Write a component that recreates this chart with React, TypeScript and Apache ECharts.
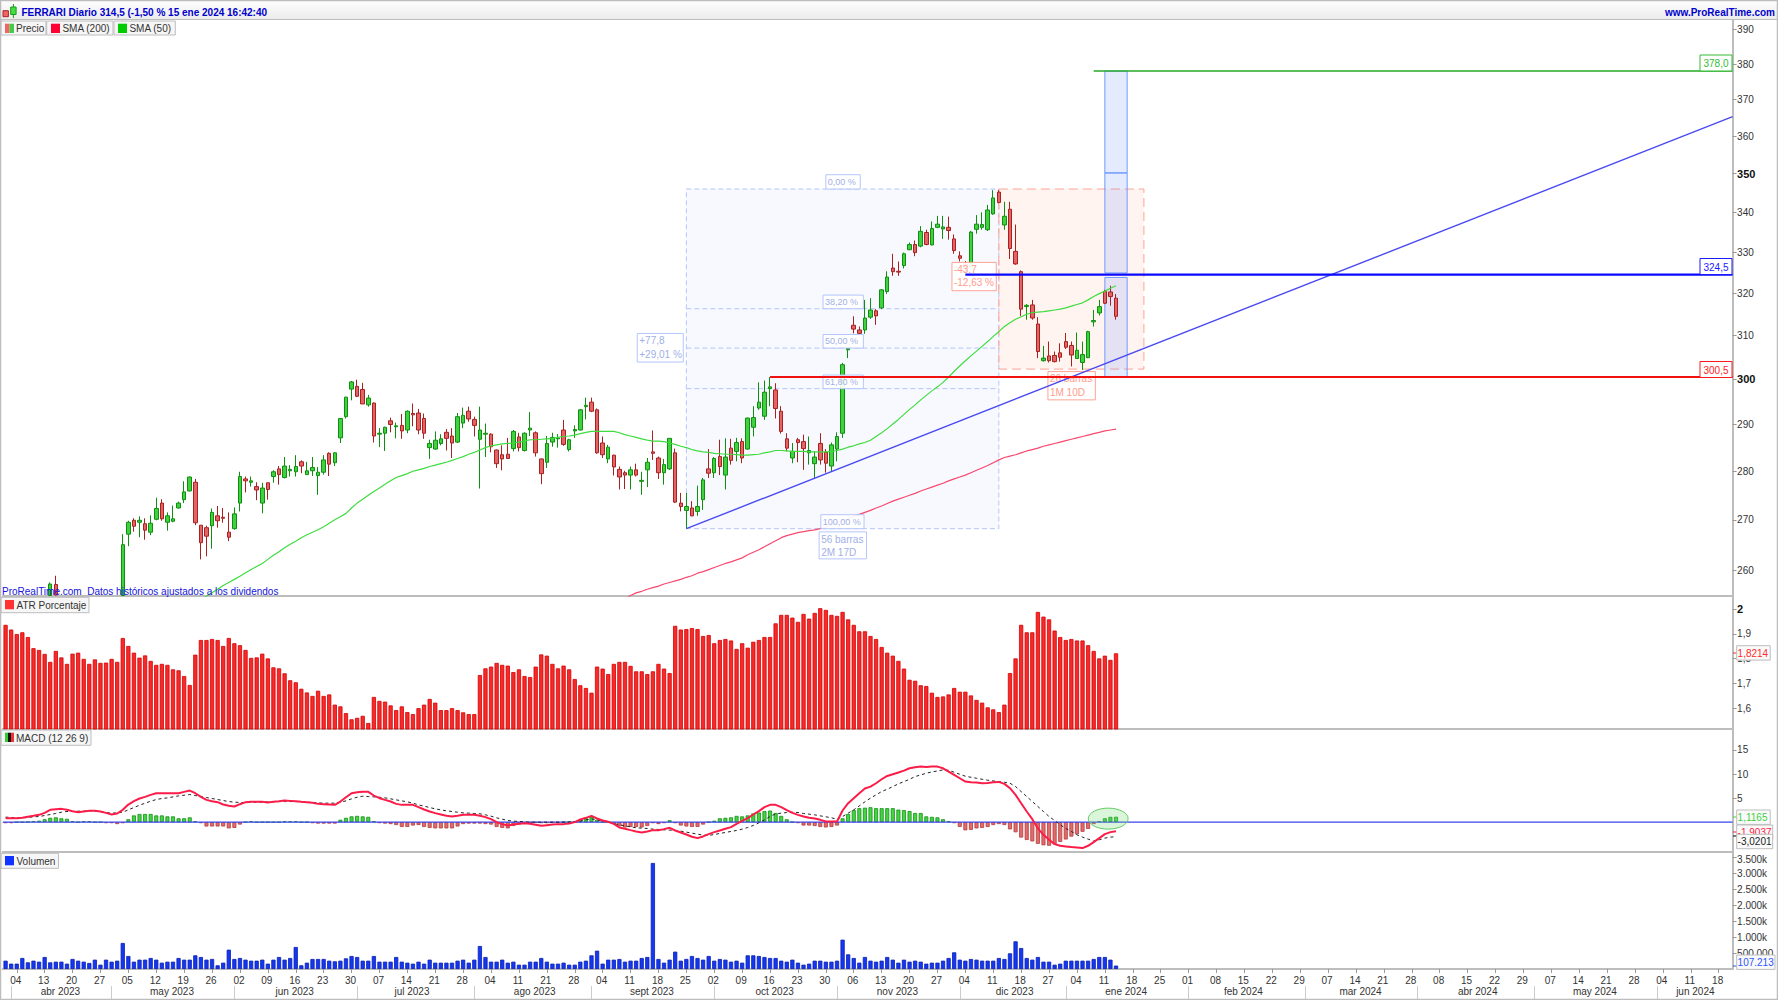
import React, { useEffect, useRef } from "react";
import * as echarts from "echarts";

const FONT = '"Liberation Sans", Arial, sans-serif';
const BAR_COUNT = 310;
const categories = Array.from({ length: BAR_COUNT }, (_, i) => String(i));

// [open, close, low, high]
const candlesApr = [
  [248,249.5,247.5,250],[249.5,250.5,249,251.2],[250.5,251,250,252],[251,250.5,249.8,251.8],[250.5,252,250.2,252.5],
  [252,252.5,251.5,253.2],[252.5,253.5,252,254],[253.5,254,253,254.6],[255.1,257.3,255.1,257.6],[257.2,255.2,255.1,258.9],
  [254.4,253,252.5,254.6],[253,252,251,254],[252,250.5,250,252.4],[250.5,249,248,251],[249,250,248.5,251],
  [250,249,248,250.5],[249,250.5,248.6,251],[250.5,250,249,251.5],[250,249,248.3,250.4],[249,248,247,249.5],[248,250,247.6,250.4],
];
const candlesMayJun = [
  [255.1,265,255.1,267.1],[267.1,269.5,264.7,269.8],[269.9,268.7,267.6,270.3],[269.5,269.9,266.5,270.7],[269.2,267.9,266,270.3],
  [267.5,269.3,266.9,270.9],[270.1,272.3,269.9,274.5],[273.4,270.2,269.8,274.2],[269.5,270.8,267.8,271.5],[269.7,270.2,269.5,272.9],
  [272.4,273.4,272.3,273.7],[274.1,275.7,273.4,277.9],[275.9,278.8,275.8,278.9],[277.7,269.4,268.9,278.4],[268.9,265.4,262.1,268.9],
  [268.4,266.7,262.7,268.8],[268.8,271.5,264.2,272.3],[270.8,269.8,268.4,272.8],[270.5,270.3,269.4,272.4],[267.5,266.5,265.7,271.5],
  [268.2,271.2,268,272.5],[273.4,278.9,271.7,279.9],[278.4,278,275.6,278.9],[277.7,278,276.8,278.9],[276.8,276.1,274,277.7],
  [273.4,276.5,271.3,277.6],[277.6,276.2,274.1,277.6],[278.9,279.9,277.6,280.2],[280.5,279.3,277.2,281.1],[278.7,281.1,278.5,283],
  [280.1,280.4,278.9,281.3],[279.9,281,278.9,283.4],[282,281.1,279.6,282.3],[279.3,280.1,279.3,282],[280.1,280.8,279,283],
  [279.1,279.8,275.1,280.9],[279.8,282.4,279.3,283.4],[283.8,281.5,279,284],[281.8,283.9,281.1,284],
];
const candlesJulAug = [
  [287.1,291.3,286,291.4],[291.7,296,291.3,296.1],[297.8,299.4,295.3,299.6],[298.4,296.2,296,299.9],[297.7,294.5,294.5,299.2],
  [294.3,295.8,293.9,296.5],[294.7,287.5,286.1,294.8],[287.9,288.1,285.1,289.2],[288.1,289.4,284.3,289.5],[290.8,290,288.3,291.5],
  [289.5,289.7,287,290.4],[289.8,288.6,286.9,292.3],[288.8,292.9,288.1,293.1],[292.4,292.1,289.6,294.6],[292.5,288.8,287.9,293.4],
  [291.3,288.1,286.9,292.4],[285,285.9,282.6,286.7],[284.7,286.6,284.6,288.5],[285.9,286.9,285.5,287.9],[288.3,287,284.4,289],
  [287.5,286,282.8,289.2],[286.2,291.7,286,292.5],[290.3,292,289.2,293.7],[292.9,291.2,290.6,293.9],[291.1,289.8,287.4,291.7],
  [286.8,288.8,276.4,293.9],[287.9,288.1,283,290.2],[287.9,285.2,284,288.1],[284.5,281.6,280.7,284.6],[283.5,282.6,280.2,285.5],
  [283.6,282.7,282.6,287.1],[284.8,288.5,284.2,288.8],[287.3,285,284.2,288.2],[284.4,288.1,284.2,288.3],[288.8,289.2,287.5,292.7],
  [288.2,283.9,283.1,288.5],[282.6,279.5,277.3,282.7],[281.9,285.9,280.7,287.5],[286.2,287.2,285.2,288.2],[286.9,287.1,285,287.9],
  [288.8,285.7,285.4,291],[284.6,286.7,284.2,286.9],[288.6,288.9,287.1,289.8],[288.8,293.2,288.7,293.4],[293.9,294.2,291.1,295.9],
  [294.9,292.9,292.7,295.9],[293.2,283.9,283.7,293.5],
];
const candlesSepOct = [
  [286,283.5,282.8,287.4],[282.6,285.1,281.7,285.6],[283.4,280.9,279.1,283.5],[280.4,278.8,276.2,281],[279.7,279.2,276.3,280.1],
  [279.2,280.3,276.2,281],[280.3,279.2,278.9,281.6],[277.9,278.1,275.1,279.9],[280.3,281.9,276.7,282.8],[284.1,283.8,282.4,288.7],
  [282.8,279.7,278.4,283.1],[279.7,281.4,277.2,282.6],[280.5,287,280.3,287],[283.9,273.6,273.4,284.8],[273.4,272.7,271.7,275.5],
  [271.9,272.7,268.2,275.5],[272.4,270.8,270.7,273.8],[271.7,272.7,270.8,277],[274.1,278.2,272,278.6],[280.5,279.6,278.6,284.7],
  [279.7,282.7,278.6,283],[283.1,281,279.2,286.7],[279.2,283,276.2,287],[284.9,282.3,281.4,286.9],[284.2,286.1,282.1,287.1],
  [286.3,282.8,281.7,287],[284.7,291.4,284.6,291.5],[289.4,291.5,287.4,294],[293.6,294.9,293.2,299.3],[291.8,297.1,291,299.7],
  [297.9,298.3,294,300.5],[297.6,293.5,291.3,299.1],[292.9,288.5,288,294],[286.9,284.9,284.2,288.1],[282.8,284.2,281.7,286],
  [286.7,286.1,281.9,287.1],[286.3,284.8,280.3,287.8],[283.9,284.4,281.4,287.4],[281.6,283,278.6,284.2],[285.9,282.4,281.4,288.1],
  [284,281.7,279.7,284.7],[281.1,285.6,279.9,286.1],[284.7,287.4,282.1,288.3],[288.1,303.3,287.1,303.7],
];
const candlesNovJan = [
  [306.7,307,304.8,307.1],[312.4,311.5,310.5,314.5],[311.3,310.5,310.4,312.1],[311.3,314.1,310.4,318.4],[314.3,316,313.9,318.8],
  [315.8,314.6,312.5,316.2],[316.5,320.8,316.2,321],[320.4,323.9,319.8,325.3],[326.1,325.2,324.2,329.6],[325.3,325.1,324.2,327.7],
  [326.7,329.6,326,329.9],[330.6,331.9,330.5,332.4],[331.9,329.9,329,332.9],[331.5,335.2,331.2,336.5],[334.9,331.9,331.7,335.6],
  [331.8,335.9,331.7,337.7],[336.2,337,336,339.1],[335.8,336.3,333.3,339.1],[336.2,335.4,333.1,338.9],[333.3,330.4,329.6,334.4],
  [329.1,328.5,327.7,330.2],[327,326,324.8,327.8],[326.5,335,326,335.3],[335.7,337,334.6,339.3],[336.2,336.9,335.6,340],
  [335.6,340.6,335.3,341.9],[339.6,343.7,339.4,345.7],[345.2,342.5,342.3,345.7],[336.8,339,335.6,342.7],[340.8,330.9,328.3,342.7],
  [330.2,327.1,326.9,336.9],[325.2,316.2,314.6,325.5],[316.8,317.1,313.7,317.4],[317.2,314.1,313.7,318.4],[312.7,306.3,304.8,314.3],
  [304.2,304.8,304,307.6],[305.3,304.2,303.8,308.6],[305.4,304,303.8,306.3],[306,305,304,308.2],[308.6,307.3,306.9,310.6],
  [307.7,305.5,302.9,308.6],[304.7,306.6,304.6,310.7],[303.8,305.6,302.1,308.6],[304.9,310.9,304.8,311.1],[313.2,313.5,312.1,316],
  [315.3,316.8,314.7,318.4],[320.4,317.6,317.4,320.8],[320.3,319.2,317,321.8],[318.8,314.5,313.7,319.8],
];

const sma50Start = 34;
const sma50 = [
  253.9,254.4,255,255.6,256.3,257,257.6,258.2,258.8,259.5,260.1,260.7,261.3,262.1,262.9,263.6,264.4,265.1,265.7,266.4,
  267,267.5,268,268.6,269.3,270,270.6,271.3,272.4,273.4,274.2,275,275.8,276.5,277.3,278,278.7,279.1,279.5,280,
  280.3,280.6,281,281.3,281.6,281.9,282.3,282.7,283.1,283.6,284,284.5,285,285.4,285.6,285.8,285.9,286,286.2,286.4,
  286.7,286.7,286.8,286.9,287,287.2,287.4,287.5,287.7,288,288.3,288.5,288.5,288.5,288.5,288.5,288.2,287.8,287.5,287.2,
  286.9,286.6,286.4,286.4,286.3,286,285.7,285.3,285,284.6,284.3,284.1,284,283.8,283.7,283.6,283.6,283.5,283.4,283.4,
  283.5,283.6,283.9,284.1,284.4,284.4,284.3,284.2,284.2,284.2,284.1,284.1,284.1,284.1,284.2,284.4,284.7,285.1,285.4,285.8,
  286.1,286.6,287.4,288.2,289.1,290.1,291.1,292.2,293.3,294.3,295.4,296.4,297.4,298.3,299.3,300.5,301.8,303,304.2,305.3,
  306.4,307.5,308.6,309.8,310.9,312.1,313,313.8,314.4,315,315.4,315.5,315.6,315.8,316,316.2,316.5,316.9,317.3,317.7,
  318.4,319.2,319.9,320.5,321.2,321.8,
];
const sma200Start = 110;
const sma200 = [
  253.9,254.5,255.1,255.6,255.9,256.3,256.6,256.9,257.3,257.6,257.9,258.2,258.6,258.9,259.4,259.7,260.1,260.5,260.9,261.3,
  261.6,262,262.4,263,263.5,264,264.6,265.2,265.8,266.4,266.8,267.1,267.4,267.6,267.8,267.95,268.2,268.6,269,269.4,
  269.8,270.2,270.7,271.1,271.5,271.9,272.4,272.8,273.3,273.8,274.2,274.6,275,275.4,275.9,276.3,276.7,277.1,277.5,278,
  278.4,278.8,279.2,279.7,280.2,280.7,281.2,281.8,282.4,282.9,283.2,283.5,283.9,284.3,284.6,284.9,285.3,285.6,285.9,286.2,
  286.5,286.8,287.1,287.4,287.7,288,288.3,288.6,288.8,289,
];

const atrPct = [
  1.936,1.917,1.899,1.906,1.887,1.842,1.835,1.819,1.787,1.831,
  1.805,1.779,1.820,1.824,1.799,1.779,1.797,1.783,1.784,1.799,
  1.787,1.883,1.851,1.824,1.804,1.813,1.791,1.775,1.779,1.775,
  1.757,1.753,1.730,1.694,1.816,1.875,1.875,1.879,1.875,1.851,
  1.883,1.862,1.854,1.835,1.803,1.805,1.820,1.801,1.765,1.761,
  1.741,1.713,1.705,1.679,1.664,1.650,1.671,1.650,1.656,1.615,
  1.608,1.581,1.556,1.562,1.570,1.541,1.646,1.630,1.627,1.612,
  1.593,1.608,1.585,1.577,1.601,1.615,1.638,1.623,1.593,1.593,
  1.601,1.593,1.584,1.577,1.577,1.734,1.761,1.768,1.783,1.775,
  1.772,1.746,1.757,1.730,1.726,1.768,1.817,1.812,1.779,1.761,
  1.772,1.757,1.718,1.693,1.682,1.663,1.768,1.760,1.738,1.779,
  1.787,1.787,1.771,1.749,1.749,1.738,1.749,1.779,1.760,1.742,
  1.932,1.917,1.919,1.923,1.919,1.891,1.895,1.862,1.875,1.879,
  1.873,1.839,1.862,1.844,1.868,1.875,1.887,1.887,1.942,1.976,
  1.976,1.965,1.948,1.980,1.961,1.984,2.003,1.996,1.976,1.972,
  1.988,1.958,1.936,1.910,1.910,1.891,1.879,1.847,1.824,1.812,
  1.791,1.760,1.715,1.711,1.693,1.690,1.663,1.646,1.648,1.656,
  1.682,1.667,1.667,1.652,1.634,1.623,1.604,1.596,1.585,1.615,
  1.742,1.801,1.936,1.906,1.906,1.988,1.969,1.958,1.913,1.887,
  1.875,1.879,1.873,1.873,1.854,1.831,1.801,1.812,1.795,1.8214,
];

const macdLine = [
  .83,.83,.83,.90,1.11,1.31,1.52,1.93,2.56,2.69,2.76,2.56,2.28,2.07,2.21,2.35,2.35,2.21,1.93,1.59,
  1.80,2.56,3.66,4.35,4.91,5.25,5.67,6.01,6.01,6.01,6.01,6.01,6.29,6.56,6.01,5.25,4.63,4.35,4.15,3.66,
  3.39,3.25,3.73,4.15,4.22,4.22,4.22,4.08,4.22,4.35,4.49,4.42,4.35,4.22,4.15,4.01,3.80,3.73,3.66,3.59,
  4.28,5.18,6.01,6.22,6.29,6.29,5.53,4.98,4.63,4.28,3.80,3.59,3.59,3.59,3.11,2.63,2.21,1.87,1.59,1.31,
  1.17,1.31,1.52,1.52,1.52,1.31,1.04,.62,0,-.41,-.69,-.48,-.35,-.21,-.35,-.55,-.76,-.62,-.48,-.41,
  -.41,-.28,0,.55,.90,1.31,.76,.35,.07,-.35,-1.11,-1.38,-1.66,-1.93,-2.14,-1.93,-1.66,-1.66,-1.45,-1.17,
  -1.73,-2.14,-2.56,-3.04,-3.32,-2.97,-2.49,-2.07,-1.73,-1.38,-1.04,-.35,.28,.83,1.59,2.28,3.11,3.59,3.59,3.11,
  2.49,1.93,1.52,1.17,.90,.76,.48,.14,.14,.14,2.42,3.94,4.98,6.01,6.98,7.39,8.08,8.91,9.60,9.95,
  10.30,10.71,11.19,11.40,11.54,11.47,11.54,11.54,11.19,10.50,9.81,9.12,8.43,8.29,8.22,8.08,8.15,8.29,8.36,7.95,
  7.05,5.67,3.94,2.21,.62,-1.31,-2.63,-3.66,-4.56,-4.91,-5.04,-5.18,-5.25,-5.39,-4.91,-4.15,-3.32,-2.49,-2.07,-1.9037,
];
const macdSignal = [
  1.04,.97,.90,.90,.97,1.11,1.17,1.38,1.59,1.80,2.07,2.21,2.21,2.28,2.28,2.35,2.28,2.14,2.00,1.87,
  1.93,2.07,2.56,3.04,3.52,3.94,4.35,4.70,4.91,5.04,5.25,5.46,5.60,5.74,5.53,5.32,5.11,4.91,4.70,4.49,
  4.28,4.15,4.08,4.08,4.15,4.15,4.15,4.22,4.22,4.28,4.28,4.28,4.28,4.22,4.15,4.08,4.01,3.94,3.94,3.94,
  4.15,4.42,4.84,5.18,5.39,5.32,5.25,5.18,5.04,4.84,4.63,4.42,4.22,3.94,3.59,3.32,3.04,2.76,2.56,2.35,
  2.21,2.07,1.93,1.87,1.80,1.73,1.52,1.24,.90,.62,.35,.21,.14,.07,0,0,0,0,0,0,
  0,0,0,.21,.48,.69,.48,.21,0,-.28,-.55,-.76,-.97,-1.17,-1.24,-1.31,-1.45,-1.52,-1.59,-1.66,
  -1.73,-1.87,-2.07,-2.28,-2.49,-2.69,-2.76,-2.56,-2.35,-2.14,-1.93,-1.73,-1.45,-1.11,-.69,-.14,.48,1.17,1.73,1.87,
  2.00,2.07,2.00,1.80,1.66,1.52,1.31,1.11,.90,.62,1.17,1.87,2.56,3.39,4.22,4.98,5.67,6.36,6.84,7.39,
  7.95,8.43,8.91,9.47,9.81,10.16,10.43,10.64,10.85,10.78,10.37,9.95,9.54,9.33,9.12,8.91,8.71,8.57,8.43,8.29,
  8.08,7.39,6.36,5.32,4.28,3.25,2.21,1.17,.35,-.55,-1.31,-1.93,-2.63,-3.11,-3.52,-3.94,-3.66,-3.32,-3.11,-3.0201,
];
const macdHist = [
  -.2,-.2,0,0,.1,.2,.3,.6,.9,1,.8,.7,.2,0,.2,.2,0,0,-.2,-.2,
  -.4,-.2,.6,1.4,1.7,1.7,1.7,1.4,1.4,1.2,1.2,.8,.8,1,.2,-.2,-.9,-.9,-.9,-.9,
  -1.3,-1.2,-.5,0,.2,0,0,0,0,0,.2,.2,.2,0,0,-.2,-.3,-.3,-.3,-.3,
  .5,.9,1.2,1.3,1.2,1.1,.2,-.2,-.3,-.4,-.6,-1,-1,-.7,-.6,-1,-1.2,-1.3,-1.3,-1.3,
  -1.3,-.9,-.4,-.3,-.3,-.3,-.4,-.5,-1,-1.2,-1.3,-.8,-.5,-.3,-.1,-.1,-.2,-.2,-.1,-.1,
  0,.1,.2,.5,.8,1.1,.5,.1,.1,-.3,-.8,-1.1,-1,-1,-1.1,-.8,-.2,-.4,-.2,.4,
  -.2,-.7,-.9,-1,-1,-.5,0,.3,.8,.9,1,1.3,1.2,1.4,1.8,2,2.3,2.4,1.9,1.3,
  .6,0,-.2,-.7,-.7,-.8,-1,-1.1,-1,-.7,.8,1.7,2.5,2.9,3,3.1,2.9,2.9,2.9,2.9,
  2.6,2.5,2.3,1.9,1.9,1.2,1.1,1,.6,.2,-.2,-1,-1.7,-1.6,-1.3,-1.2,-1,-.6,-.4,-.6,
  -1.5,-2.1,-3.2,-3.7,-4,-4.5,-4.8,-4.9,-4.6,-4.1,-3.6,-3,-2.5,-2,-1.4,-.4,.2,.8,1.1,1.1165,
];

// thousands of shares
const volumeK = [
  260,167,167,344,208,260,229,375,208,229,229,167,313,260,229,188,292,135,292,229,
  260,813,406,229,292,292,344,292,198,229,229,344,292,292,427,375,292,313,115,198,
  604,313,344,292,260,260,292,167,292,375,292,344,688,115,198,313,313,313,260,240,
  260,333,406,375,260,260,406,229,229,229,375,229,198,167,229,167,292,198,198,198,
  198,260,292,198,292,719,375,229,229,292,198,229,135,135,229,229,344,229,167,167,
  198,135,135,229,260,427,573,167,292,292,313,229,260,260,344,375,3313,313,198,292,
  542,260,313,406,344,292,406,260,313,292,229,260,198,427,427,406,375,344,344,260,
  229,292,198,135,167,260,260,229,229,260,917,458,344,198,375,260,229,260,375,292,
  198,292,229,260,229,167,198,198,260,344,521,292,260,313,292,260,260,260,344,313,
  490,865,656,344,292,375,229,229,135,167,260,260,260,260,260,313,375,375,292,107.213,
];

const priceTicks = [260,270,280,290,300,310,320,330,340,350,360,370,380,390];
const atrTicks = [1.6,1.7,1.8,1.9,2];
const macdTicks = [5,10,15];
const volumeTicks = [500,1000,1500,2000,2500,3000,3500];

const dayLabels = [
  "04","13","20","27","05","12","19","26","02","09","16","23","30","07","14","21","28","04","11","21","28",
  "04","11","18","25","02","09","16","23","30","06","13","20","27","04","11","18","27","04","11","18","25","01",
  "08","15","22","29","07","14","21","28","08","15","22","29","07","14","21","28","04","11","18",
];
const monthStarts = [1,19,41,63,84,105,127,149,171,190,212,233,253,274,296];
const monthLabels: Record<number,string> = {
  10:"abr 2023",30:"may 2023",52:"jun 2023",73:"jul 2023",95:"ago 2023",116:"sept 2023",138:"oct 2023",160:"nov 2023",
  181:"dic 2023",201:"ene 2024",222:"feb 2024",243:"mar 2024",264:"abr 2024",285:"may 2024",303:"jun 2024",
};

const fibLow = 268.2, fibHigh = 346, fibFrom = 122, fibTo = 178;
const fibLevels = [316.3, 307.1, 297.9];
const BLUE = "#b4c6fa", BLUE_TEXT = "#9fb0e6", RED = "#ffa395", RED_TEXT = "#ff9c8c";
// [x0, price0, x1, price1, style]
const regionRows = [
  [fibFrom, fibHigh, fibTo, fibLow, 0],
  [178, 346, 204, 302.3, 1],
  [197, 378, 201, 350.2, 2],
  [197, 350.2, 201, 324.9, 2],
  [197, 323.8, 201, 300.5, 2],
];
const regionStyles = [
  { fill: "rgba(125,150,250,0.06)", stroke: BLUE, lineDash: [5, 3], lineWidth: 1 },
  { fill: "rgba(255,110,70,0.08)", stroke: RED, lineDash: [9, 5], lineWidth: 1 },
  { fill: "rgba(90,130,255,0.16)", stroke: "#6f9bff", lineWidth: 1 },
];
const boxes = [
  { x: 147, price: 346, w: 34.4, h: 14.3, lines: ["0,00 %"], tone: 0, size: 9 },
  { x: 146.5, price: 316.3, w: 40.3, h: 13.6, lines: ["38,20 %"], tone: 0, size: 9 },
  { x: 146.5, price: 307.1, w: 40.3, h: 13.6, lines: ["50,00 %"], tone: 0, size: 9 },
  { x: 146.5, price: 297.9, w: 40.3, h: 13.6, lines: ["61,80 %"], tone: 0, size: 9 },
  { x: 146.1, price: 268.2, w: 43.2, h: 14, lines: ["100,00 %"], tone: 0, size: 9 },
  { x: 113.2, price: 303.9, w: 46, h: 28.6, lines: ["+77,8", "+29,01 %"], tone: 0, size: 10 },
  { x: 145.8, price: 262.2, w: 47.4, h: 27, lines: ["56 barras", "2M 17D"], tone: 0, size: 10 },
  { x: 169.6, price: 320.6, w: 44.3, h: 28.3, lines: ["-43,7", "-12,63 %"], tone: 1, size: 10 },
  { x: 186.8, price: 295.4, w: 47.4, h: 28.3, lines: ["26 barras", "1M 10D"], tone: 1, size: 10 },
];
const priceTags = [
  { text: "378,0", y: 55, color: "#33bb33" },
  { text: "324,5", y: 258.5, color: "#1a1aff" },
  { text: "300,5", y: 361.5, color: "#ff1a1a" },
];
const valueTags = [
  { text: "1,8214", y: 645.7, w: 33.5, color: "#ff2a2a", tick: 653, tc: "#ff2a2a" },
  { text: "1,1165", y: 810, w: 33.5, color: "#40d040", tick: 817, tc: "#40d040" },
  { text: "-1,9037", y: 825, w: 36, color: "#ff1744", tick: 832, tc: "#ff1744" },
  { text: "-3,0201", y: 834.3, w: 36, color: "#222222", tick: 836, tc: "#000000" },
  { text: "107.213", y: 955, w: 38.3, color: "#2a55ff", tick: 966, tc: "#2a55ff" },
];
const legendChips = [
  { x: 1, y: 21, w: 45, h: 14, text: "Precio", tx: 16, sw: ["#e66", "#4c4"] },
  { x: 46.7, y: 21, w: 66.3, h: 14, text: "SMA (200)", tx: 62.4, sx: 51, sw: ["#ff0033"] },
  { x: 114, y: 21, w: 61.3, h: 14, text: "SMA (50)", tx: 129.4, sx: 118, sw: ["#00cc00"] },
  { x: 1, y: 597.3, w: 88, h: 15.4, text: "ATR Porcentaje", tx: 16.5, sw: ["#ff3333"] },
  { x: 1, y: 730, w: 90, h: 15.3, text: "MACD (12 26 9)", tx: 16, sw: ["#3c3", "#111", "#e33"] },
  { x: 1, y: 853.3, w: 57.5, h: 15, text: "Volumen", tx: 16.5, sw: ["#1133ff"] },
];

function buildGraphic() {
  const els: any[] = [];
  const Z = 50;
  els.push({ type: "rect", z: Z, shape: { x: 0, y: 0, width: 1778, height: 19 }, style: { fill: new echarts.graphic.LinearGradient(0, 0, 0, 1, [{ offset: 0, color: "#ffffff" }, { offset: 1, color: "#ececec" }]) } });
  els.push({ type: "line", z: Z, shape: { x1: 0, y1: 19.5, x2: 1778, y2: 19.5 }, style: { stroke: "#bdbdbd", lineWidth: 1 } });
  els.push({ type: "rect", z: Z, shape: { x: 3, y: 10.7, width: 5.4, height: 6 }, style: { fill: "#e66", stroke: "#a22", lineWidth: 1 } });
  els.push({ type: "line", z: Z, shape: { x1: 13.4, y1: 4, x2: 13.4, y2: 18 }, style: { stroke: "#1a9a1a", lineWidth: 1 } });
  els.push({ type: "rect", z: Z, shape: { x: 10.7, y: 7, width: 5.4, height: 7.5 }, style: { fill: "#4d4", stroke: "#1a9a1a", lineWidth: 1 } });
  els.push({ type: "text", z: Z, style: { x: 21.4, y: 12, text: "FERRARI Diario 314,5 (-1,50 % 15 ene 2024 16:42:40", font: `bold 10px ${FONT}`, fill: "#0000cc", align: "left", verticalAlign: "middle" } });
  els.push({ type: "text", z: Z, style: { x: 1775, y: 12, text: "www.ProRealTime.com", font: `bold 10px ${FONT}`, fill: "#0000cc", align: "right", verticalAlign: "middle" } });
  els.push({ type: "text", z: Z, style: { x: 2, y: 591, text: "ProRealTime.com  Datos históricos ajustados a los dividendos", font: `10px ${FONT}`, fill: "#1414dc", align: "left", verticalAlign: "middle" } });
  legendChips.forEach((c) => {
    els.push({ type: "rect", z: Z, shape: { x: c.x, y: c.y, width: c.w, height: c.h }, style: { fill: "#f6f6f6", stroke: "#bdbdbd", lineWidth: 1 } });
    const sx = c.sx ?? 5;
    const sw = 9 / c.sw.length;
    c.sw.forEach((col, k) => els.push({ type: "rect", z: Z, shape: { x: sx + k * sw, y: c.y + 2.7, width: sw, height: 9.3 }, style: { fill: col } }));
    els.push({ type: "text", z: Z, style: { x: c.tx, y: c.y + c.h / 2 + 0.5, text: c.text, font: `10px ${FONT}`, fill: "#333333", align: "left", verticalAlign: "middle" } });
  });
  priceTags.forEach((t) => {
    els.push({ type: "rect", z: Z, shape: { x: 1700, y: t.y, width: 32, height: 16 }, style: { fill: "#ffffff", stroke: t.color, lineWidth: 1 } });
    els.push({ type: "text", z: Z, style: { x: 1716, y: t.y + 8.5, text: t.text, font: `10px ${FONT}`, fill: t.color, align: "center", verticalAlign: "middle" } });
  });
  valueTags.forEach((t, k) => {
    els.push({ type: "line", z: Z + k, shape: { x1: 1733, y1: t.tick, x2: 1737, y2: t.tick }, style: { stroke: t.tc, lineWidth: 1 } });
    els.push({ type: "rect", z: Z + k, shape: { x: 1736.7, y: t.y, width: t.w, height: 14.4 }, style: { fill: "#fafafa", stroke: "#bdbdbd", lineWidth: 1 } });
    els.push({ type: "text", z: Z + k, style: { x: 1737.6, y: t.y + 7.6, text: t.text, font: `10px ${FONT}`, fill: t.color, align: "left", verticalAlign: "middle" } });
  });
  els.push({ type: "rect", z: Z + 20, shape: { x: 0.5, y: 0.5, width: 1777, height: 999 }, style: { fill: "none", stroke: "#bdbdbd", lineWidth: 1.5 } });
  return els;
}

const labelStyle = { color: "#333333", fontSize: 10, fontFamily: FONT };
const valueAxisBase = {
  position: "right" as const,
  splitLine: { show: false },
  axisLine: { show: true, onZero: false, lineStyle: { color: "#bdbdbd", width: 2 } },
};
function valueAxis(gridIndex: number, min: number, max: number, ticks: number[], fmt: (v: number) => string, type = "value") {
  return {
    ...valueAxisBase,
    type,
    gridIndex,
    min,
    max,
    axisTick: { show: true, length: 4, lineStyle: { color: "#999999" }, customValues: ticks },
    axisLabel: {
      ...labelStyle,
      margin: 4.5,
      customValues: ticks,
      formatter: fmt,
      rich: {
        b: { fontSize: 11, fontWeight: "bold", color: "#111111", fontFamily: FONT },
        t: { fontSize: 10, color: "#333333", fontFamily: FONT, padding: [5, 0, 0, 0] },
      },
    },
  };
}
function hiddenCategory(gridIndex: number) {
  return {
    type: "category", gridIndex, data: categories, boundaryGap: true,
    axisLine: { show: true, onZero: false, lineStyle: { color: "#bdbdbd", width: 2 } },
    axisTick: { show: false }, axisLabel: { show: false }, splitLine: { show: false },
  };
}
function overlayLine(name: string, data: number[][], color: string, width: number, z: number, xAxisIndex = 5, yAxisIndex = 0, type: any = "solid") {
  return { type: "line", name, xAxisIndex, yAxisIndex, data, z, showSymbol: false, symbol: "none", silent: true, lineStyle: { color, width, type } };
}

function buildOption() {
  const candles = [...candlesApr, ...candlesMayJun, ...candlesJulAug, ...candlesSepOct, ...candlesNovJan];
  const left = 2.8, right = 45.4;
  return {
    animation: false,
    backgroundColor: "#ffffff",
    textStyle: { fontFamily: FONT },
    graphic: { elements: buildGraphic() },
    grid: [
      { left, right, top: 19.5, height: 576.5 },
      { left, right, top: 596, height: 133 },
      { left, right, top: 729, height: 123 },
      { left, right, top: 852, height: 117 },
    ],
    xAxis: [
      hiddenCategory(0), hiddenCategory(1), hiddenCategory(2),
      {
        type: "category", gridIndex: 3, data: categories,
        axisLine: { show: true, onZero: false, lineStyle: { color: "#bdbdbd", width: 2 } },
        axisTick: { show: true, alignWithLabel: true, length: 4, lineStyle: { color: "#999999" }, interval: (i: number) => (i - 2) % 5 === 0 },
        axisLabel: { ...labelStyle, margin: 6, padding: [0, 2, 0, 0], interval: (i: number) => (i - 2) % 5 === 0, formatter: (_: string, i: number) => dayLabels[(i - 2) / 5] ?? "" },
      },
      {
        type: "category", gridIndex: 3, data: categories, position: "bottom", offset: 17,
        axisLine: { show: false, onZero: false },
        axisTick: { show: true, alignWithLabel: true, length: 13, lineStyle: { color: "#cccccc" }, interval: (i: number) => monthStarts.includes(i) },
        axisLabel: { ...labelStyle, margin: 0, padding: [0, 2, 0, 0], interval: (i: number) => monthLabels[i] !== undefined, formatter: (_: string, i: number) => monthLabels[i] ?? "" },
      },
      { type: "value", gridIndex: 0, show: false, min: -0.5, max: BAR_COUNT - 0.5 },
      { type: "value", gridIndex: 2, show: false, min: -0.5, max: BAR_COUNT - 0.5 },
    ],
    yAxis: [
      valueAxis(0, 255, 392.9, priceTicks, (v) => { const r = Math.round(v); return r === 300 || r === 350 ? `{b|${r}}` : `${r}`; }, "log"),
      valueAxis(1, 1.517, 2.052, atrTicks, (v) => (v === 2 ? "{b|2}" : v.toFixed(1).replace(".", ","))),
      valueAxis(2, -6.2, 19.35, macdTicks, (v) => `${v}`),
      valueAxis(3, 0, 3657, volumeTicks, (v) => (v === 500 ? "500.000" : v === 3500 ? "{t|3.500k}" : `${(v / 1000).toFixed(3)}k`)),
    ],
    series: [
      {
        type: "custom", name: "regions", xAxisIndex: 5, yAxisIndex: 0, z: 1, silent: true, clip: true,
        encode: { x: 0, y: 1 },
        data: regionRows,
        renderItem: (_: any, api: any) => {
          const a = api.coord([api.value(0), api.value(1)]);
          const b = api.coord([api.value(2), api.value(3)]);
          return { type: "rect", shape: { x: a[0], y: a[1], width: b[0] - a[0], height: b[1] - a[1] }, style: regionStyles[api.value(4)] };
        },
      },
      ...fibLevels.map((p, k) => overlayLine(`fib${k}`, [[fibFrom, p], [fibTo, p]], BLUE, 1, 1, 5, 0, [5, 3])),
      {
        type: "candlestick", name: "Precio", xAxisIndex: 0, yAxisIndex: 0, data: candles, barWidth: 4, z: 2,
        itemStyle: { color: "#40d040", color0: "#e26464", borderColor: "#0f8f0f", borderColor0: "#a82020", borderWidth: 1 },
      },
      { type: "line", name: "SMA (50)", xAxisIndex: 0, yAxisIndex: 0, z: 3, symbol: "none", data: [...Array(sma50Start).fill(null), ...sma50], lineStyle: { color: "#3fdc3f", width: 1.2 } },
      { type: "line", name: "SMA (200)", xAxisIndex: 0, yAxisIndex: 0, z: 3, symbol: "none", data: [...Array(sma200Start).fill(null), ...sma200], lineStyle: { color: "#f8486e", width: 1.2 } },
      {
        type: "custom", name: "labels", xAxisIndex: 5, yAxisIndex: 0, z: 4, silent: true, clip: false,
        encode: { x: 0, y: 1 },
        data: boxes.map((b, k) => [b.x, b.price, k]),
        renderItem: (_: any, api: any) => {
          const b = boxes[api.value(2)];
          const p = api.coord([api.value(0), api.value(1)]);
          const stroke = b.tone ? RED : BLUE;
          const fill = b.tone ? RED_TEXT : BLUE_TEXT;
          return {
            type: "group", x: p[0], y: p[1] - b.h,
            children: [
              { type: "rect", shape: { x: 0, y: 0, width: b.w, height: b.h }, style: { fill: "rgba(255,255,255,0.92)", stroke, lineWidth: 1 } },
              ...b.lines.map((t, k) => ({
                type: "text",
                style: { x: 2, y: (b.lines.length === 1 ? b.h / 2 : 7.2 + k * 13.4), text: t, fill, font: `${b.size}px ${FONT}`, align: "left", verticalAlign: "middle" },
              })),
            ],
          };
        },
      },
      overlayLine("trend", [[122, 268.2], [309.5, 365.3]], "#4a4af2", 1.4, 5),
      overlayLine("objetivo", [[195, 378], [309.5, 378]], "#27a827", 1.6, 5),
      overlayLine("entrada", [[172, 324.5], [309.5, 324.5]], "#0a0aff", 2.2, 5),
      overlayLine("stop", [[137, 300.5], [309.5, 300.5]], "#f01010", 2, 5),
      {
        type: "bar", name: "ATR Porcentaje", xAxisIndex: 1, yAxisIndex: 1, data: atrPct, barWidth: 4.2,
        itemStyle: { color: "#f62a2a", borderColor: "#d40000", borderWidth: 0.8 },
      },
      {
        type: "bar", name: "MACD hist", xAxisIndex: 2, yAxisIndex: 2, barWidth: 4, z: 2,
        data: macdHist.map((v) => ({
          value: v,
          itemStyle: v >= 0
            ? { color: "#45d445", borderColor: "#128f12", borderWidth: 0.8 }
            : { color: "#e06c6c", borderColor: "#b53a3a", borderWidth: 0.8 },
        })),
      },
      overlayLine("cero", [[-0.5, 0], [309.5, 0]], "#3a44ee", 1.3, 3, 6, 2),
      { type: "line", name: "Signal", xAxisIndex: 2, yAxisIndex: 2, z: 4, symbol: "none", data: macdSignal, lineStyle: { color: "#222222", width: 1, type: [3, 3] } },
      { type: "line", name: "MACD", xAxisIndex: 2, yAxisIndex: 2, z: 5, symbol: "none", data: macdLine, lineStyle: { color: "#fb1c48", width: 2 } },
      {
        type: "custom", name: "marca", xAxisIndex: 6, yAxisIndex: 2, z: 6, silent: true, clip: false,
        encode: { x: 0, y: 1 },
        data: [[197.6, 0.73]],
        renderItem: (_: any, api: any) => {
          const c = api.coord([api.value(0), api.value(1)]);
          return { type: "ellipse", shape: { cx: c[0], cy: c[1], rx: 19.9, ry: 10.5 }, style: { fill: "rgba(110,215,110,0.25)", stroke: "#62cc62", lineWidth: 1 } };
        },
      },
      {
        type: "bar", name: "Volumen", xAxisIndex: 3, yAxisIndex: 3, data: volumeK, barWidth: 4.2,
        itemStyle: { color: "#1437f2", borderColor: "#0a20b0", borderWidth: 0.8 },
      },
    ],
  };
}

export default function App() {
  const ref = useRef<HTMLDivElement>(null);
  useEffect(() => {
    document.body.style.margin = "0";
    const chart = echarts.init(ref.current!, null, { renderer: "svg" });
    chart.setOption(buildOption() as any);
    return () => chart.dispose();
  }, []);
  return <div ref={ref} style={{ width: 1778, height: 1000 }} />;
}
